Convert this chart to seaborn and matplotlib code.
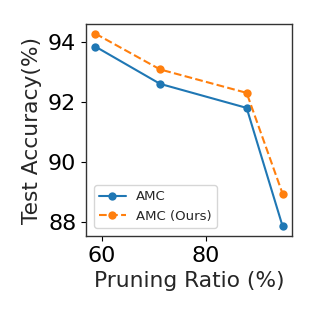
import matplotlib
matplotlib.use("Agg")
import matplotlib.pyplot as plt
import seaborn as sns
import pandas as pd

pruning_ratio = [58.8, 71.2, 87.8, 94.7]
amc = [93.84, 92.6, 91.8, 87.86]
amc_ours = [94.27, 93.08, 92.3, 88.94]
series_names = ["AMC", "AMC (Ours)"]

sns.set_style("ticks")
plt.rcParams['font.family'] = ['DejaVu Sans']

fig = plt.figure(figsize=(3.16, 3.16), dpi=100)
ax = fig.add_axes([86/316, 80/316, 206/316, 212/316])

df1 = pd.DataFrame({"x": pruning_ratio, "y": amc})
df2 = pd.DataFrame({"x": pruning_ratio, "y": amc_ours})
sns.lineplot(data=df1, x="x", y="y", ax=ax, marker="o", markersize=6,
             markeredgewidth=0, color="#1f77b4", linewidth=1.5, label=series_names[0])
sns.lineplot(data=df2, x="x", y="y", ax=ax, marker="o", markersize=6,
             markeredgewidth=0, color="#ff7f0e", linewidth=1.5, linestyle="--",
             label=series_names[1])

ax.set_xticks([60, 80])
ax.set_yticks([88, 90, 92, 94])
ax.tick_params(labelsize=16, length=3.5, width=0.8, colors="black")
ax.set_xlabel("Pruning Ratio (%)", fontsize=15.7)
ax.set_ylabel("Test Accuracy(%)", fontsize=15.7)
for s in ax.spines.values():
    s.set_color("#333333")
    s.set_linewidth(1.0)
ax.legend(loc="lower left", fontsize=9.5, frameon=True, borderaxespad=0.6)

fig.savefig("out.png", dpi=100)
